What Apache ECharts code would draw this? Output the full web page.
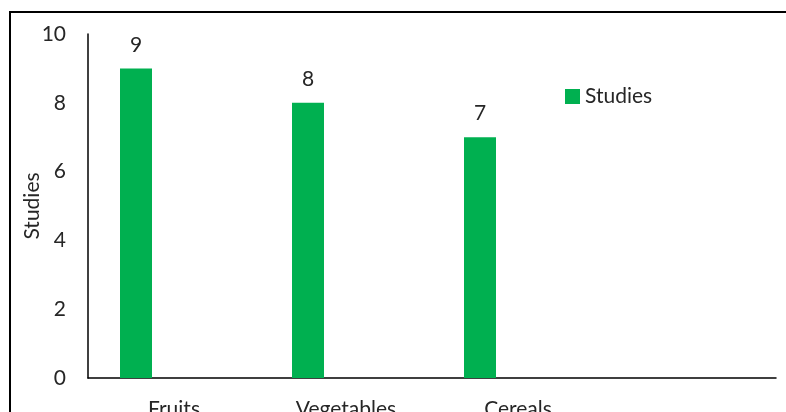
<!DOCTYPE html>
<html>
<head>
<meta charset="utf-8">
<script src="https://cdn.jsdelivr.net/npm/echarts@6/dist/echarts.min.js"></script>
<style>html,body{margin:0;padding:0;background:#fff}#c{width:786px;height:412px}</style>
</head>
<body>
<div id="c"></div>
<script>
var categories = ['Fruits', 'Vegetables', 'Cereals', ''];
var studies = [9, 8, 7, null];
var yTicks = [0, 2, 4, 6, 8, 10];

var chart = echarts.init(document.getElementById('c'), null, {renderer: 'canvas'});
var font = 'Lato, "Open Sans", sans-serif';
chart.setOption({
  animation: false,
  backgroundColor: '#fff',
  grid: {left: 88, top: 34, right: 10, bottom: 34, containLabel: false, outerBoundsMode: 'none'},
  legend: {
    data: ['Studies'], left: 565, top: 86, itemWidth: 15, itemHeight: 15, itemGap: 6,
    padding: 0, icon: 'rect',
    textStyle: {fontFamily: font, fontSize: 21, color: '#262626'}
  },
  xAxis: {
    type: 'category', data: categories,
    axisLine: {lineStyle: {color: '#000', width: 1.5}},
    axisTick: {show: false},
    axisLabel: {fontFamily: font, fontSize: 21, color: '#262626', margin: 21, interval: 0}
  },
  yAxis: {
    type: 'value', min: yTicks[0], max: yTicks[yTicks.length - 1], interval: 2,
    name: 'Studies', nameLocation: 'middle', nameGap: 45, nameRotate: 90, nameMoveOverlap: false,
    nameTextStyle: {fontFamily: font, fontSize: 21, color: '#262626'},
    axisLine: {show: true, lineStyle: {color: '#000', width: 1.5}},
    axisTick: {show: false},
    splitLine: {show: false},
    axisLabel: {fontFamily: font, fontSize: 21, color: '#262626', margin: 22}
  },
  series: [
    {
      name: 'Studies', type: 'bar', data: studies, barWidth: 32, barGap: '137.5%',
      itemStyle: {color: '#00B050'},
      label: {show: true, position: 'top', distance: 13, fontFamily: font, fontSize: 21, color: '#262626'}
    },
    {
      name: 'blank', type: 'bar', data: [null, null, null, null], barWidth: 32,
      itemStyle: {color: 'transparent'}
    }
  ],
  graphic: [{
    type: 'rect', shape: {x: 10, y: 12, width: 800, height: 430},
    style: {fill: null, stroke: '#000', lineWidth: 2}, silent: true
  }]
});
</script>
</body>
</html>
